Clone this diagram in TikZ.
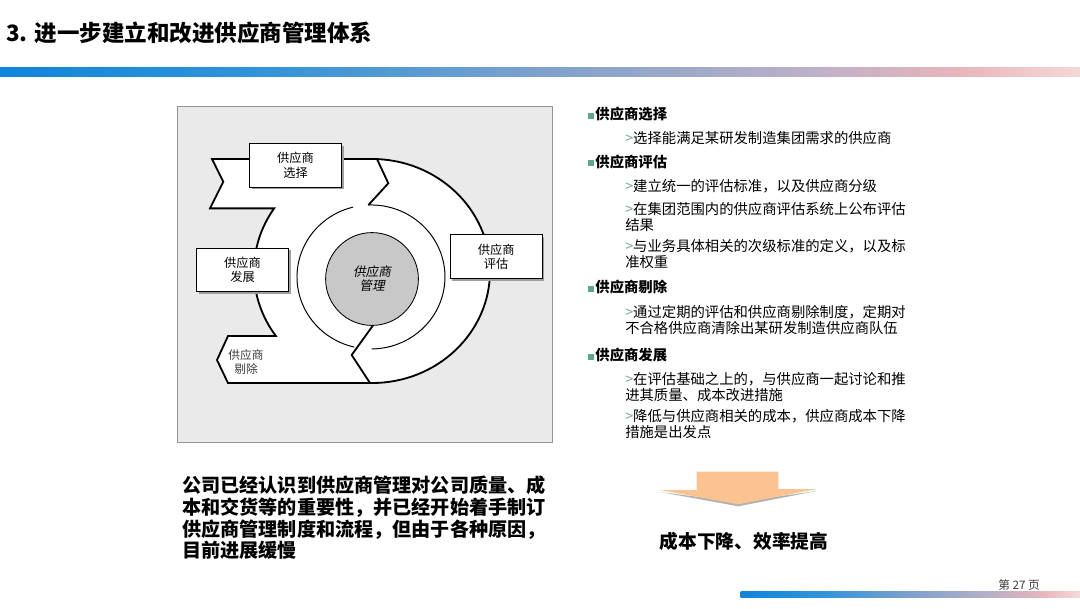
\documentclass[tikz,border=0pt]{standalone}
\usepackage{fontspec}
\setmainfont{Noto Sans CJK SC}
\newfontfamily\slantcjk[FakeSlant=0.2]{Noto Sans CJK SC}
\usetikzlibrary{shadows}

\definecolor{panelgray}{RGB}{234,234,234}
\definecolor{panelline}{RGB}{150,150,150}
\definecolor{hubgray}{RGB}{200,200,200}
\definecolor{sqgreen}{RGB}{95,165,145}
\definecolor{chevcol}{RGB}{120,170,160}
\definecolor{peach}{RGB}{250,195,145}
\definecolor{footgray}{RGB}{60,60,60}

% colour bar under the title and above the page number
\pgfdeclarehorizontalshading{slidebar}{100bp}{rgb(0bp)=(0.06,0.52,0.86); rgb(25bp)=(0.06,0.52,0.86); rgb(37.5bp)=(0.2,0.58,0.85); rgb(50bp)=(0.49,0.63,0.8); rgb(62.5bp)=(0.74,0.69,0.78); rgb(69.5bp)=(0.91,0.71,0.73); rgb(75bp)=(0.96,0.85,0.85); rgb(100bp)=(0.96,0.85,0.85)}

\newcommand{\sqbul}{\textcolor{sqgreen}{\rule[0.05em]{0.42em}{0.42em}}\hspace{0.08em}}
\newcommand{\chev}{\textcolor{chevcol}{>}}

\begin{document}
\begin{tikzpicture}[x=0.025cm, y=0.025cm,
    panel/.style={draw=panelline, fill=panelgray, line width=0.6pt},
    ring/.style={draw=black, fill=white, line width=1.3pt, line join=miter},
    thinarc/.style={draw=black, line width=0.7pt},
    zig/.style={draw=black, line width=1.3pt},
    stagebox/.style={draw=black, fill=white, line width=0.6pt, minimum width=65.5pt, minimum height=31pt,
        align=center, inner sep=0pt, font=\fontsize{8.7}{10}\selectfont,
        drop shadow={shadow xshift=1.5pt, shadow yshift=-1.5pt, fill=gray!75, opacity=1}},
    hub/.style={circle, draw=black, fill=hubgray, line width=0.6pt, minimum size=66pt, inner sep=0pt,
        align=center, font=\slantcjk\fontsize{9}{10}\selectfont},
    head/.style={anchor=west, inner sep=0pt, font=\bfseries\fontsize{10.2}{11.1}\selectfont},
    item/.style={anchor=north west, inner sep=0pt, align=left, font=\fontsize{10.2}{11.1}\selectfont}
]
    % Page
    \fill[white] (0,0) rectangle (1080,-608);
    \useasboundingbox (0,0) rectangle (1080,-608);

    % Title and bar
    \node[anchor=west, inner sep=0pt, font=\bfseries\fontsize{16}{18}\selectfont] (title) at (6,-33) {3. 进一步建立和改进供应商管理体系};
    \shade[shading=slidebar] (0,-67) rectangle (1080,-76);

    % Panel behind the cycle
    \draw[panel] (177,-106) rectangle (552,-442);

    % White cycle band with the two flags on the left
    \filldraw[ring] (212,-159) -- (372,-159)
        arc[start angle=90, end angle=-90, x radius=118, y radius=112]
        -- (228,-383) -- (217,-360) -- (228,-336) -- (275.9,-336)
        arc[start angle=215.5, end angle=146, x radius=118, y radius=112]
        -- (210,-208.4) -- (223.3,-181.7) -- cycle;

    % Inner thin circle, open at top and bottom
    \draw[thinarc] (368.4,-205) arc[start angle=92, end angle=-89.5, x radius=74, y radius=72];
    \draw[thinarc] (353.1,-207.1) arc[start angle=104, end angle=257, x radius=74, y radius=72];

    % Notches
    \coordinate (ztop) at (377,-159);
    \coordinate (zbot) at (370,-383);
    \draw[zig] (ztop) -- (388.3,-183.3) -- (368.4,-205);
    \draw[zig] (373.3,-325) -- (351.7,-355) -- (zbot);

    % Centre
    \node[hub] (hub) at (372,-279) {供应商\\管理};

    % Stages
    \node[stagebox] (select) at (295.5,-165.3) {供应商\\选择};
    \node[stagebox] (assess) at (496.2,-256.7) {供应商\\评估};
    \node[stagebox] (develop) at (242.5,-270) {供应商\\发展};
    \node[align=center, inner sep=0pt, text=footgray, font=\fontsize{8.3}{9.8}\selectfont] (remove) at (246,-362) {供应商\\剔除};

    % Right-hand list
    \node[head] (h1) at (588,-114) {\sqbul 供应商选择};
    \node[item] (i1) at (625,-131.1) {\chev 选择能满足某研发制造集团需求的供应商};
    \node[head] (h2) at (588,-161.7) {\sqbul 供应商评估};
    \node[item] (i2) at (625,-178.8) {\chev 建立统一的评估标准，以及供应商分级};
    \node[item] (i3) at (625,-202.1) {\chev 在集团范围内的供应商评估系统上公布评估\\结果};
    \node[item] (i4) at (625,-239.5) {\chev 与业务具体相关的次级标准的定义，以及标\\准权重};
    \node[head] (h3) at (588,-287.3) {\sqbul 供应商剔除};
    \node[item] (i5) at (625,-305.5) {\chev 通过定期的评估和供应商剔除制度，定期对\\不合格供应商清除出某研发制造供应商队伍};
    \node[head] (h4) at (588,-355) {\sqbul 供应商发展};
    \node[item] (i6) at (625,-372.1) {\chev 在评估基础之上的，与供应商一起讨论和推\\进其质量、成本改进措施};
    \node[item] (i7) at (625,-409.5) {\chev 降低与供应商相关的成本，供应商成本下降\\措施是出发点};

    % Status note
    \node[anchor=north west, inner sep=0pt, align=left, font=\bfseries\fontsize{13.6}{15.4}\selectfont] (note) at (182,-476)
        {公司已经认识到供应商管理对公司质量、成\\本和交货等的重要性，并已经开始着手制订\\供应商管理制度和流程，但由于各种原因，\\目前进展缓慢};

    % Down arrow and result
    \fill[gray!60] (660,-492) -- (738.3,-506.3) -- (816.7,-491) -- (738.3,-502) -- cycle;
    \fill[peach] (696.7,-471.7) -- (778.3,-471.7) -- (778.3,-489) -- (816.7,-489) -- (738.3,-504.3)
        -- (660,-490) -- (696.7,-490) -- cycle;
    \node[inner sep=0pt, font=\bfseries\fontsize{13.3}{15}\selectfont] (result) at (744,-541.7) {成本下降、效率提高};

    % Footer
    \node[anchor=west, inner sep=0pt, text=footgray, font=\fontsize{8.3}{10}\selectfont] (page) at (998,-585) {第 27 页};
    \shade[shading=slidebar] (740.7,-591) rectangle (1080,-597.5);
\end{tikzpicture}
\end{document}
